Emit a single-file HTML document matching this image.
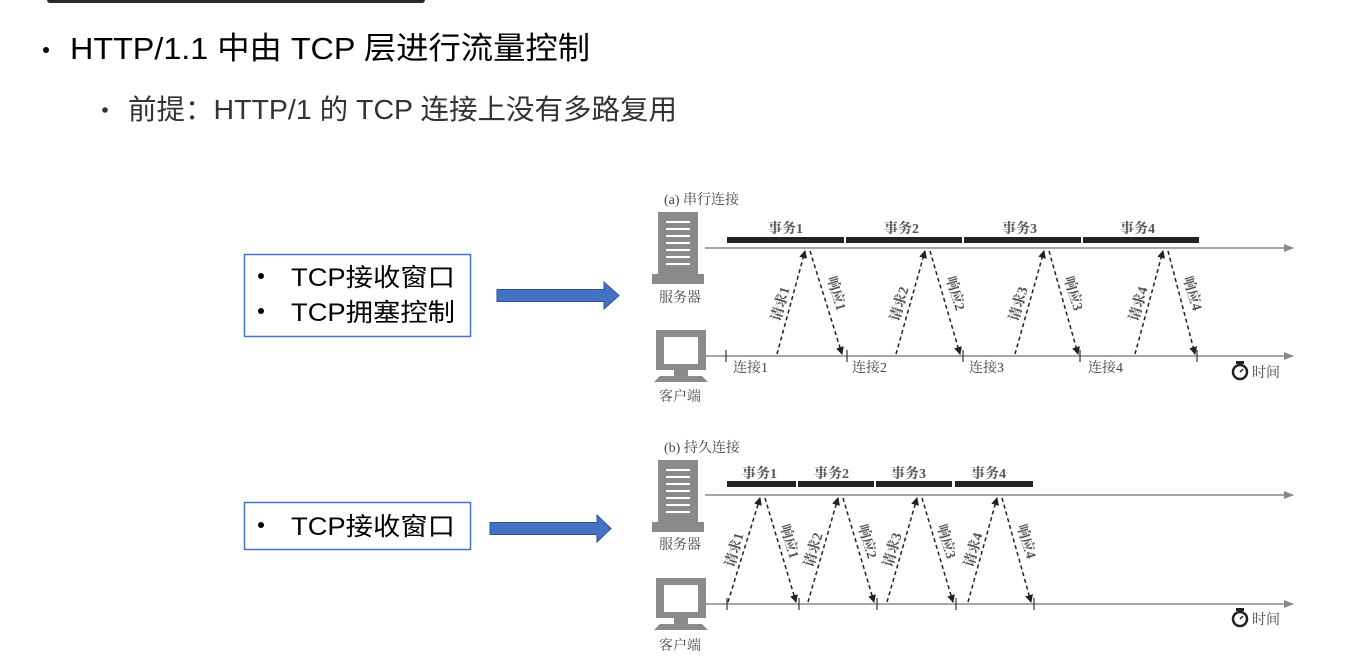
<!DOCTYPE html>
<html><head><meta charset="utf-8"><style>
html,body{margin:0;padding:0;background:#fff;width:1358px;height:671px;overflow:hidden}
svg{display:block}
</style></head><body>
<svg width="1358" height="671" viewBox="0 0 1358 671" xmlns="http://www.w3.org/2000/svg" font-family="'Liberation Sans','Noto Sans CJK SC',sans-serif">
<defs>
<marker id="ah" markerWidth="8" markerHeight="8" refX="7" refY="4" orient="auto" markerUnits="userSpaceOnUse"><path d="M0,0 L8,4 L0,8 z" fill="#222"/></marker>
<marker id="ga" markerWidth="10" markerHeight="8" refX="9" refY="4" orient="auto" markerUnits="userSpaceOnUse"><path d="M0,0 L10,4 L0,8 z" fill="#888"/></marker>
<g id="srv"><rect x="0" y="0" width="40" height="62" fill="#8a8a8a"/><rect x="-6" y="62" width="52" height="10" fill="#8a8a8a"/>
<g stroke="#fff" stroke-width="2"><line x1="8" y1="10" x2="32" y2="10"/><line x1="8" y1="17" x2="32" y2="17"/><line x1="8" y1="24" x2="32" y2="24"/><line x1="8" y1="31" x2="32" y2="31"/><line x1="8" y1="38" x2="32" y2="38"/><line x1="8" y1="45" x2="32" y2="45"/><line x1="8" y1="52" x2="32" y2="52"/></g></g>
<g id="cli"><rect x="0" y="0" width="50" height="40" fill="#8a8a8a"/><rect x="8" y="7" width="34" height="27" fill="#fff"/><rect x="18" y="40" width="14" height="6" fill="#8a8a8a"/><path d="M4,46 L46,46 L52,52 L-2,52 z" fill="#8a8a8a"/></g>
<g id="clk"><circle cx="0" cy="0" r="7" fill="none" stroke="#222" stroke-width="2.5"/><rect x="-4" y="-11" width="8" height="3" fill="#222"/><line x1="0" y1="0" x2="3" y2="-3" stroke="#222" stroke-width="1.5"/></g>
</defs>

<rect x="47" y="-6" width="378" height="9" rx="3" fill="#2b2b2b"/>
<circle cx="46" cy="50" r="3" fill="#000"/>
<text x="70" y="59" font-size="31" fill="#000" textLength="520" lengthAdjust="spacingAndGlyphs">HTTP/1.1 中由 TCP 层进行流量控制</text>
<circle cx="105" cy="110" r="2.8" fill="#333"/>
<text x="128" y="119" font-size="28" fill="#333" textLength="549" lengthAdjust="spacingAndGlyphs">前提：HTTP/1 的 TCP 连接上没有多路复用</text>

<rect x="244.5" y="254.5" width="226" height="82" fill="#fff" stroke="#4472c4" stroke-width="1.5"/>
<circle cx="261" cy="276" r="3" fill="#000"/><circle cx="261" cy="311" r="3" fill="#000"/>
<text x="291" y="286" font-size="25" fill="#000" textLength="164" lengthAdjust="spacingAndGlyphs">TCP接收窗口</text>
<text x="291" y="321" font-size="25" fill="#000" textLength="164" lengthAdjust="spacingAndGlyphs">TCP拥塞控制</text>
<path d="M497,289.5 L604,289.5 L604,282 L619,295.5 L604,309 L604,301.5 L497,301.5 z" fill="#4472c4" stroke="#2f528f" stroke-width="1"/>

<rect x="244.5" y="502.5" width="226" height="47" fill="#fff" stroke="#4472c4" stroke-width="1.5"/>
<circle cx="261" cy="525" r="3" fill="#000"/>
<text x="291" y="535" font-size="25" fill="#000" textLength="164" lengthAdjust="spacingAndGlyphs">TCP接收窗口</text>
<path d="M490,522.5 L597,522.5 L597,515 L611,528.5 L597,542 L597,534.5 L490,534.5 z" fill="#4472c4" stroke="#2f528f" stroke-width="1"/>

<g font-family="'Liberation Serif','Noto Serif CJK SC',serif" fill="#444">
<!-- (a) -->
<text x="664" y="204" font-size="14">(a) 串行连接</text>
<use href="#srv" x="658" y="212"/>
<text x="659" y="302" font-size="14">服务器</text>
<use href="#cli" x="656" y="330"/>
<text x="659" y="401" font-size="14">客户端</text>
<line x1="705" y1="248" x2="1293" y2="248" stroke="#888" stroke-width="1.5" marker-end="url(#ga)"/>
<line x1="705" y1="356" x2="1293" y2="356" stroke="#888" stroke-width="1.5" marker-end="url(#ga)"/>
<g fill="#222"><rect x="727" y="237" width="117" height="6"/><rect x="846" y="237" width="116" height="6"/><rect x="964" y="237" width="117" height="6"/><rect x="1083" y="237" width="116" height="6"/></g>
<g font-size="14" font-weight="bold" fill="#555"><text x="768" y="233">事务1</text><text x="884" y="233">事务2</text><text x="1002" y="233">事务3</text><text x="1120" y="233">事务4</text></g>
<g font-size="14"><text x="733" y="372">连接1</text><text x="852" y="372">连接2</text><text x="969" y="372">连接3</text><text x="1088" y="372">连接4</text></g>
<g stroke="#333" stroke-width="1.2"><line x1="726" y1="350" x2="726" y2="362"/><line x1="847" y1="350" x2="847" y2="362"/><line x1="963" y1="350" x2="963" y2="362"/><line x1="1080" y1="350" x2="1080" y2="362"/><line x1="1197" y1="350" x2="1197" y2="362"/></g>
<g stroke="#222" stroke-width="1.5" stroke-dasharray="4,3" fill="none">
<line x1="777" y1="354" x2="805" y2="251" marker-end="url(#ah)"/><line x1="810" y1="251" x2="842" y2="354" marker-end="url(#ah)"/>
<line x1="896" y1="354" x2="925" y2="251" marker-end="url(#ah)"/><line x1="930" y1="251" x2="960" y2="354" marker-end="url(#ah)"/>
<line x1="1015" y1="354" x2="1044" y2="251" marker-end="url(#ah)"/><line x1="1049" y1="251" x2="1078" y2="354" marker-end="url(#ah)"/>
<line x1="1135" y1="354" x2="1163" y2="251" marker-end="url(#ah)"/><line x1="1168" y1="251" x2="1195" y2="354" marker-end="url(#ah)"/></g>
<g font-size="14" font-weight="bold" fill="#555">
<text transform="translate(780,322) rotate(-74)">请求1</text><text transform="translate(827,278) rotate(73)">响应1</text>
<text transform="translate(899,322) rotate(-74)">请求2</text><text transform="translate(946,278) rotate(73)">响应2</text>
<text transform="translate(1018,322) rotate(-74)">请求3</text><text transform="translate(1064,278) rotate(73)">响应3</text>
<text transform="translate(1138,322) rotate(-74)">请求4</text><text transform="translate(1183,278) rotate(73)">响应4</text></g>
<use href="#clk" x="1240" y="372"/>
<text x="1252" y="377" font-size="14">时间</text>

<!-- (b) -->
<text x="664" y="452" font-size="14">(b) 持久连接</text>
<use href="#srv" x="658" y="460"/>
<text x="659" y="549" font-size="14">服务器</text>
<use href="#cli" x="656" y="578"/>
<text x="659" y="650" font-size="14">客户端</text>
<line x1="705" y1="495" x2="1293" y2="495" stroke="#888" stroke-width="1.5" marker-end="url(#ga)"/>
<line x1="705" y1="604" x2="1293" y2="604" stroke="#888" stroke-width="1.5" marker-end="url(#ga)"/>
<g fill="#222"><rect x="727" y="481" width="69" height="6"/><rect x="798" y="481" width="76" height="6"/><rect x="876" y="481" width="76" height="6"/><rect x="955" y="481" width="78" height="6"/></g>
<g font-size="14" font-weight="bold" fill="#555"><text x="742" y="478">事务1</text><text x="814" y="478">事务2</text><text x="891" y="478">事务3</text><text x="971" y="478">事务4</text></g>
<g stroke="#333" stroke-width="1.2"><line x1="727" y1="598" x2="727" y2="610"/><line x1="799" y1="598" x2="799" y2="610"/><line x1="877" y1="598" x2="877" y2="610"/><line x1="956" y1="598" x2="956" y2="610"/><line x1="1034" y1="598" x2="1034" y2="610"/></g>
<g stroke="#222" stroke-width="1.5" stroke-dasharray="4,3" fill="none">
<line x1="728" y1="602" x2="760" y2="498" marker-end="url(#ah)"/><line x1="765" y1="498" x2="796" y2="602" marker-end="url(#ah)"/>
<line x1="808" y1="602" x2="838" y2="498" marker-end="url(#ah)"/><line x1="843" y1="498" x2="874" y2="602" marker-end="url(#ah)"/>
<line x1="887" y1="602" x2="917" y2="498" marker-end="url(#ah)"/><line x1="922" y1="498" x2="953" y2="602" marker-end="url(#ah)"/>
<line x1="968" y1="602" x2="997" y2="498" marker-end="url(#ah)"/><line x1="1002" y1="498" x2="1031" y2="602" marker-end="url(#ah)"/></g>
<g font-size="14" font-weight="bold" fill="#555">
<text transform="translate(734,568) rotate(-74)">请求1</text><text transform="translate(780,526) rotate(73)">响应1</text>
<text transform="translate(813,568) rotate(-74)">请求2</text><text transform="translate(858,526) rotate(73)">响应2</text>
<text transform="translate(892,568) rotate(-74)">请求3</text><text transform="translate(937,526) rotate(73)">响应3</text>
<text transform="translate(973,568) rotate(-74)">请求4</text><text transform="translate(1017,526) rotate(73)">响应4</text></g>
<use href="#clk" x="1240" y="619"/>
<text x="1252" y="624" font-size="14">时间</text>
</g>
</svg>
</body></html>
